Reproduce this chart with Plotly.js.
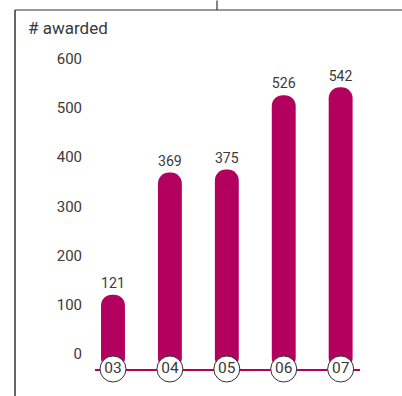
<!DOCTYPE html>
<html><head><meta charset="utf-8">
<script src="https://cdn.plot.ly/plotly-3.0.1.min.js"></script>
<style>html,body{margin:0;padding:0;background:#fff;}#chart{width:402px;height:396px;}</style>
</head><body><div id="chart"></div>
<script>
const years = ["03", "04", "05", "06", "07"];
const awarded = [121, 369, 375, 526, 542];
const yTicks = [0, 100, 200, 300, 400, 500, 600];
const baseValue = -30;

const FONT = 'Roboto, "Liberation Sans", sans-serif';
const MAG = '#B3005E';
const TXT = '#3a3a3a';

// plot area in pixels (for layout decorations only)
const L = 95, R = 402 - 360, T = 38.5, B = 27;
const W = 402 - L - R, H = 396 - T - B;
const px = x => (x - L) / W;
const py = y => (396 - B - y) / H;

const bars = {
  type: 'bar', x: years,
  y: awarded.map(v => v - baseValue), base: baseValue,
  customdata: awarded, texttemplate: '%{customdata}', textposition: 'outside',
  textfont: {family: FONT, size: 15.5, color: TXT},
  marker: {color: MAG, line: {width: 0}}, width: 0.42, cliponaxis: false, hoverinfo: 'skip'
};
const circles = {
  type: 'scatter', mode: 'markers+text', x: years, y: years.map(() => baseValue),
  text: years, textposition: 'middle center',
  textfont: {family: FONT, size: 15.5, color: TXT},
  marker: {symbol: 'circle', size: 26, color: '#fff', line: {color: '#333', width: 1}},
  cliponaxis: false, hoverinfo: 'skip'
};

const layout = {
  width: 402, height: 396, showlegend: false,
  paper_bgcolor: '#fff', plot_bgcolor: '#fff',
  margin: {l: L, r: R, t: T, b: B, pad: 0},
  barcornerradius: '50%',
  font: {family: FONT, size: 15, color: TXT},
  title: {text: '# awarded', x: 28/402, xref: 'container', xanchor: 'left',
          y: 1 - 28/396, yref: 'container', yanchor: 'middle',
          font: {family: FONT, size: 17, color: TXT}},
  xaxis: {type: 'category', range: [-0.316, 4.34], showticklabels: false, ticks: '',
          showgrid: false, zeroline: false, showline: true, linecolor: MAG, linewidth: 2,
          layer: 'below traces', fixedrange: true},
  yaxis: {range: [baseValue, 640], tickvals: yTicks, ticktext: yTicks.map(String),
          showgrid: false, zeroline: false, showline: false,
          ticks: 'outside', ticklen: 9, tickcolor: 'rgba(0,0,0,0)',
          tickfont: {family: FONT, size: 15, color: TXT}, fixedrange: true},
  shapes: [
    {type: 'line', xref: 'paper', yref: 'paper', x0: px(15), x1: px(402), y0: py(9.5), y1: py(9.5), line: {color: '#777', width: 1.5}},
    {type: 'line', xref: 'paper', yref: 'paper', x0: px(15), x1: px(15), y0: py(9.5), y1: py(396), line: {color: '#333', width: 1.5}},
    {type: 'line', xref: 'paper', yref: 'paper', x0: px(217), x1: px(217), y0: py(0), y1: py(9.5), line: {color: '#333', width: 1.2}}
  ]
};
Plotly.newPlot('chart', [bars, circles], layout, {displayModeBar: false, staticPlot: true});
</script></body></html>
